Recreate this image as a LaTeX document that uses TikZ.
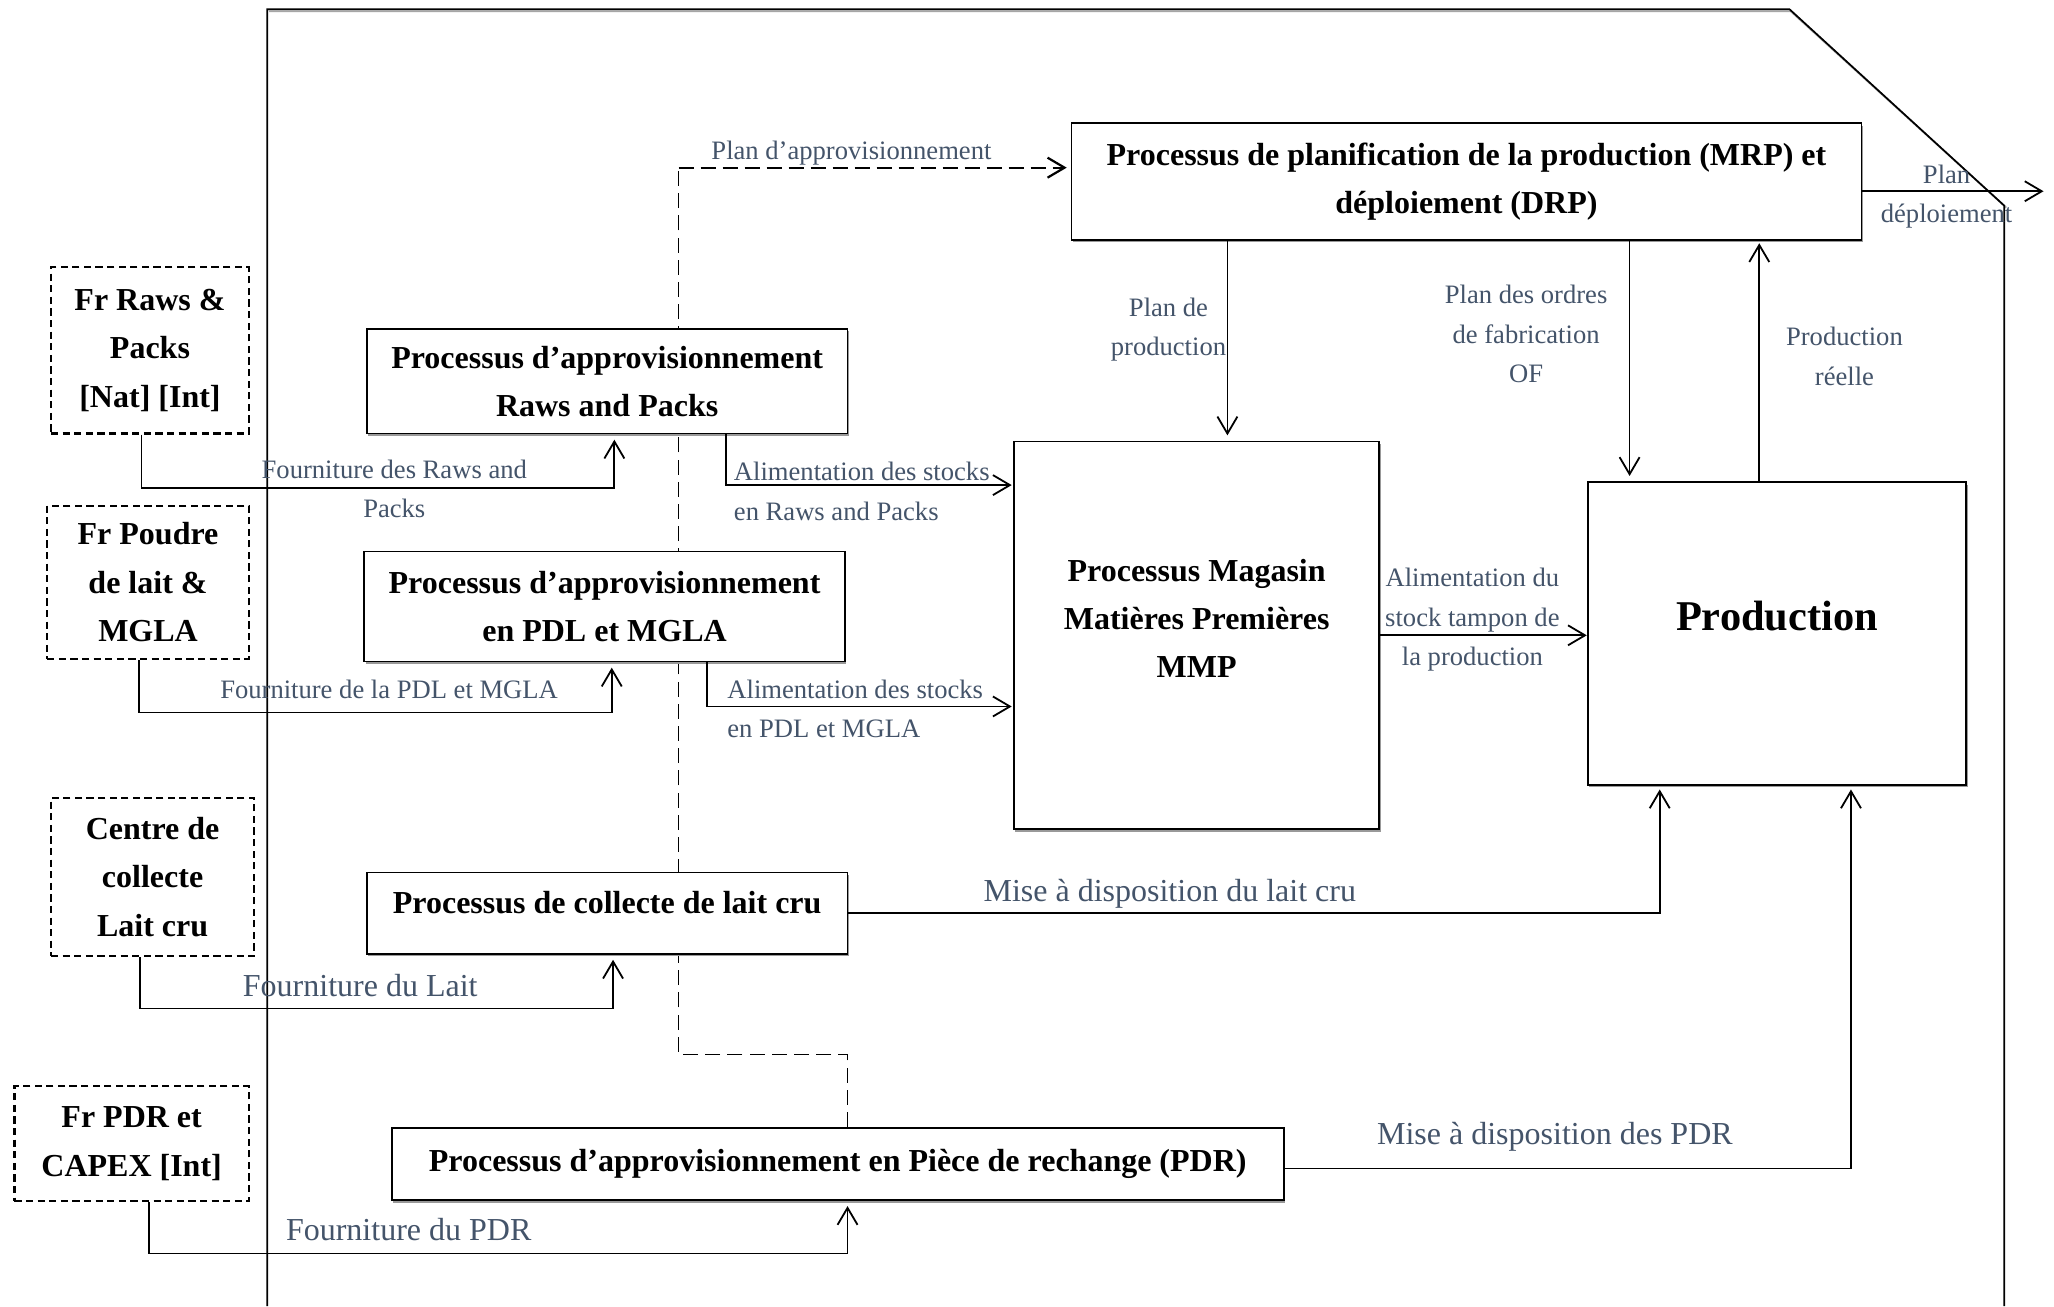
\documentclass[tikz,border=0pt]{standalone}
\usepackage{fontspec}
\setmainfont{Liberation Serif}
\usetikzlibrary{arrows.meta,calc,shadows,backgrounds}
\definecolor{lbl}{HTML}{44546A}
\begin{document}
\begin{tikzpicture}[x=0.655pt,y=-0.655pt,
  sz/.style 2 args={minimum width=#1*0.655pt, minimum height=#2*0.655pt},
  proc/.style={draw, line width=0.9pt, fill=white, align=center, inner sep=0pt,
     font=\fontsize{16}{24}\selectfont\bfseries,
     drop shadow={shadow xshift=0.7pt, shadow yshift=-1.3pt, fill=black!40, opacity=1}},
  supp/.style={draw, line width=1.1pt, dash pattern=on 3.6pt off 2.2pt, align=center,
     inner sep=0pt, font=\fontsize{16}{24.2}\selectfont\bfseries},
  boxtxt/.style={align=center, inner sep=0pt, font=\fontsize{16}{24}\selectfont\bfseries},
  conn/.style={line width=0.9pt, -{Straight Barb[length=8.5pt,width=10pt]}},
  lab/.style={text=lbl, font=\fontsize{13.3}{19.7}\selectfont, align=center, inner sep=0pt},
  labbig/.style={text=lbl, font=\fontsize{16}{20}\selectfont, inner sep=0pt},
  dline/.style={line width=0.9pt, dash pattern=on 7.5pt off 3.6pt},
  dlinetop/.style={line width=1.1pt, dash pattern=on 7.5pt off 3.5pt,
     -{Straight Barb[length=8.5pt,width=10pt]}},
]
\useasboundingbox (0,0) rectangle (1568,997);

% outer frame with its shadow
\draw[black!35, line width=0.9pt] (205.5,8.6) -- (1367,8.6) -- (1531.6,158.5);
\draw[line width=0.85pt] (204,997) -- (204,7) -- (1366,7) -- (1530,157) -- (1530,997);

% suppliers
\node[supp, sz={151}{127}] (frraws) at (114.5,267.5) {Fr Raws \&\\Packs\\{[Nat] [Int]}};
\node[supp, sz={154}{117}] (frpoudre) at (113,444.5) {Fr Poudre\\de lait \&\\MGLA};
\node[supp, sz={155}{121}] (centre) at (116.5,669.5) {Centre de\\collecte\\Lait cru};
\node[supp, sz={179}{88}] (frpdr) at (100.5,873) {Fr PDR et\\CAPEX [Int]};

% processes
\node[proc, sz={603}{89}] (mrp) at (1119.5,138.5)
  {Processus de planification de la production (MRP) et\\déploiement (DRP)};
\node[proc, sz={367}{80}] (praws) at (463.5,291) {Processus d’approvisionnement\\Raws and Packs};
\node[proc, sz={367}{84}] (ppdl) at (461.5,463) {Processus d’approvisionnement\\en PDL et MGLA};
\node[proc, sz={367}{62}] (pcoll) at (463.5,697) {\smash{Processus de collecte de lait cru}};
\node[proc, sz={681}{55}] (ppdr) at (639.5,888.5)
  {Processus d’approvisionnement en Pièce de rechange (PDR)};
\node[proc, sz={279}{296}] (mmp) at (913.5,485) {};
\node[boxtxt] (mmptxt) at (913.5,472) {Processus Magasin\\Matières Premières\\MMP};
\node[proc, sz={289}{231}] (prod) at (1356.5,483.5) {};
\node[boxtxt, font=\fontsize{21.2}{25}\selectfont\bfseries] (prodtxt) at (1356.5,470) {Production};

% free end of the deployment plan
\coordinate (out) at (1560,146);

% dashed planning link, behind the boxes
\coordinate (dtop) at (518,128);
\coordinate (dlow) at (518,805);
\begin{scope}[on background layer]
  \fill[white] (0,0) rectangle (1568,997);
  \draw[dline] ($(ppdr.north)+(7.5,0)$) |- (dlow) -- (dtop);
\end{scope}
\draw[dlinetop] (dtop) -- ($(mrp.west)+(-3,-10.5)$);

% supplies
\draw[conn] ($(frraws.south)+(-6.5,0)$) -- ++(0,41) -| ($(praws.south)+(5.5,4)$);
\draw[conn] ($(frpoudre.south)+(-7,0)$) -- ++(0,40) -| ($(ppdl.south)+(5.5,4)$);
\draw[conn] ($(centre.south)+(-9.5,0)$) -- ++(0,39) -| ($(pcoll.south)+(4.5,4)$);
\draw[conn] ($(frpdr.south)+(13.5,0)$) -- ++(0,39) -| ($(ppdr.south)+(7.5,4)$);

% stock feeding
\draw[conn] ($(praws.south)+(90.5,0)$) |- ($(mmp.north west)+(-1,34)$);
\draw[conn] ($(ppdl.south)+(78.5,0)$) |- ($(mmp.north west)+(-1,203)$);
\draw[conn] (mmp.east) -- (mmp.east -| prod.west);

% planning flows
\draw[conn, shorten >=2.6pt] ($(mrp.south)+(-182.5,0)$) coordinate (pp) -- (pp |- mmp.north);
\draw[conn, shorten >=2.6pt] ($(mrp.south)+(124.5,0)$) coordinate (of) -- (of |- prod.north);
\draw[conn, shorten >=1.3pt] ($(prod.north)+(-13.5,0)$) coordinate (pr) -- (pr |- mrp.south);
\draw[conn] ($(mrp.east)+(0,7.5)$) -- (out);

% deliveries to production
\draw[conn] (pcoll.east) -| ($(prod.south)+(-89.5,3)$);
\draw[conn] ($(ppdr.east)+(0,3.5)$) -| ($(prod.south)+(56.5,3)$);

% labels
\node[lab] (l1) at (301,373) {Fourniture des Raws and\\Packs};
\node[lab] (l2) at (297,526) {Fourniture de la PDL et MGLA};
\node[labbig] (l3) at (275,752) {Fourniture du Lait};
\node[labbig] (l4) at (312,939) {Fourniture du PDR};
\node[lab, align=left, anchor=west] (l5) at (560,375) {Alimentation des stocks\\en Raws and Packs};
\node[lab, align=left, anchor=west] (l6) at (555,541) {Alimentation des stocks\\en PDL et MGLA};
\node[lab] (l7) at (1124,473) {Alimentation du\\stock tampon de\\la production};
\node[lab] (l8) at (892,251.5) {Plan de\\production};
\node[lab] (l9) at (1165,255) {Plan des ordres\\de fabrication\\OF};
\node[lab] (l10) at (1408,272) {Production\\réelle};
\node[lab] (l11) at (1486,150) {Plan\\déploiement};
\node[labbig] (l12) at (893,682) {Mise à disposition du lait cru};
\node[labbig] (l13) at (1187,868) {Mise à disposition des PDR};
\node[lab] (l14) at (650,117) {Plan d’approvisionnement};
\end{tikzpicture}
\end{document}
